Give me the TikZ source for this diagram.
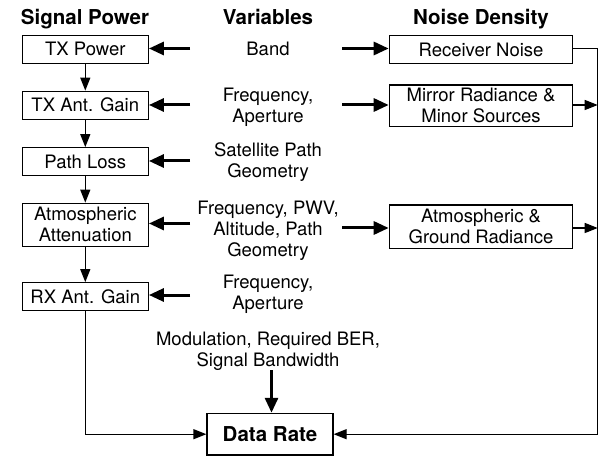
\documentclass[tikz,border=0pt]{standalone}
\usepackage{fontspec}
\setmainfont{TeX Gyre Heros}
\usetikzlibrary{arrows.meta}
\newcommand{\txtfont}{\fontsize{18.5bp}{21bp}\selectfont}
\newcommand{\hdrfont}{\fontsize{20.5bp}{23bp}\selectfont\bfseries}
\tikzset{
  box/.style={draw, line width=1.2bp, inner sep=0pt, align=center, font=\txtfont,
              minimum width=126bp},
  lbox/.style={box, minimum width=126bp},
  rbox/.style={box, minimum width=183.4bp},
  hdr/.style={anchor=base, inner sep=0pt, font=\hdrfont},
  var/.style={align=center, inner sep=0pt, font=\txtfont},
  flow/.style={line width=1.2bp, -{Triangle[length=13bp,width=10bp]}},
  link/.style={line width=1.2bp},
  feed/.style={line width=3bp, -{Triangle[length=15bp,width=13bp]}},
}
\begin{document}
\begin{tikzpicture}[x=1bp, y=-1bp]
\useasboundingbox (0,0) rectangle (602,456);

% column headings
\node[hdr] (hsig) at (85,25) {Signal Power};
\node[hdr] (hvar) at (268,25) {Variables};
\node[hdr] (hnoise) at (481,25) {Noise Density};

% signal power chain
\node[lbox, minimum height=28bp] (txp) at (85.3,49.3) {TX Power};
\node[lbox, minimum height=28bp] (txg) at (85.3,105.2) {TX Ant. Gain};
\node[lbox, minimum height=28bp] (pl)  at (85.3,161.7) {Path Loss};
\node[lbox, minimum height=43bp] (att) at (85.3,224.7) {Atmospheric\\Attenuation};
\node[lbox, minimum height=28bp] (rxg) at (85.3,296.7) {RX Ant. Gain};

% noise density sources
\node[rbox, minimum height=27.6bp] (rn)  at (481,49.5) {Receiver Noise};
\node[rbox, minimum height=41.7bp] (mr)  at (481,105.8) {Mirror Radiance \&\\Minor Sources};
\node[rbox, minimum height=43.3bp] (agr) at (481,226.7) {Atmospheric \&\\Ground Radiance};

% result
\node[lbox, minimum height=41.7bp, font=\hdrfont] (dr) at (270,434.2) {Data Rate};

% variables
\node[var] (vband) at (268,49) {Band};
\node[var] (vtxa)  at (268,107) {Frequency,\\Aperture};
\node[var] (vsat)  at (268,162) {Satellite Path\\Geometry};
\node[var] (vatm)  at (268,231) {Frequency, PWV,\\Altitude, Path\\Geometry};
\node[var] (vrxa)  at (268,294) {Frequency,\\Aperture};
\node[var] (vmod)  at (268,351) {Modulation, Required BER,\\Signal Bandwidth};

% arrow tails beside the variables
\coordinate (l1) at (190,48.5);
\coordinate (l2) at (190,105);
\coordinate (l3) at (190,161);
\coordinate (l4) at (190,223.5);
\coordinate (l5) at (190,295);
\coordinate (r1) at (342,48.5);
\coordinate (r2) at (342,105);
\coordinate (r4) at (342,228);
\coordinate (mtop) at (271.5,370);
\coordinate (bus) at (597.7,48.5);

% variables feed into the blocks
\draw[feed] (l1) -- (txp.east |- l1);
\draw[feed] (l2) -- (txg.east |- l2);
\draw[feed] (l3) -- (pl.east |- l3);
\draw[feed] (l4) -- (att.east |- l4);
\draw[feed] (l5) -- (rxg.east |- l5);
\draw[feed] (r1) -- (rn.west |- r1);
\draw[feed] (r2) -- (mr.west |- r2);
\draw[feed] (r4) -- (agr.west |- r4);
\draw[feed] (mtop) -- (mtop |- dr.north);

% signal power chain
\draw[flow] (txp) -- (txg);
\draw[flow] (txg) -- (pl);
\draw[flow] (pl) -- (att);
\draw[flow] (att) -- (rxg);
\draw[flow] (rxg) |- (dr.west);

% noise bus
\draw[link] (rn.east |- bus) -- (bus);
\draw[flow] (bus) |- (dr.east);
\draw[flow] (mr.east |- r2) -- (bus |- r2);
\draw[flow] (agr.east |- r4) -- (bus |- r4);
\end{tikzpicture}
\end{document}
